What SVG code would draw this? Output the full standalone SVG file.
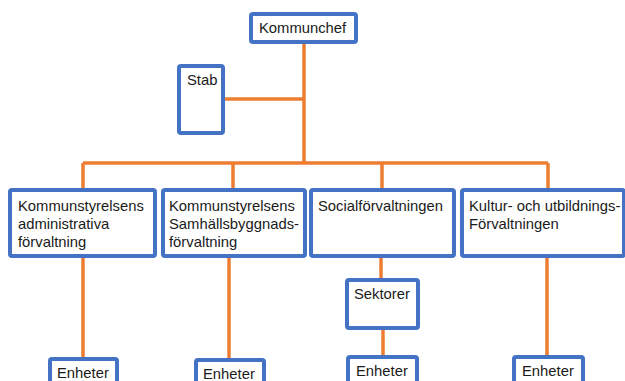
<svg xmlns="http://www.w3.org/2000/svg" width="625" height="381" viewBox="0 0 625 381">
<style>
.box{fill:#fff;stroke:#4472C4;stroke-width:4}
.ln{stroke:#ED7D31;stroke-width:3.5;fill:none;stroke-linecap:butt}
text{font-family:"Liberation Sans",Arial,sans-serif;font-size:14.8px;fill:#1a1a1a}
</style>
<rect width="625" height="381" fill="#fff"/>
<g id="connectors">
<path class="ln" d="M304 42V163M223 99H304M83 163H548M83 163V190M233 163V190M382 163V190M548 163V190"/>
<path class="ln" d="M83 258V359M229 257V360M381 257V280M383 328V357M547 257V357"/>
</g>
<g id="kommunchef"><rect class="box" x="251" y="14" width="105" height="28" rx="2"/><text x="259" y="33">Kommunchef</text></g>
<g id="stab"><rect class="box" x="179" y="66" width="44" height="67" rx="2"/><text x="187" y="85">Stab</text></g>
<g id="ks-adm"><rect class="box" x="10" y="190" width="145" height="66" rx="2"/><text x="18" y="211">Kommunstyrelsens</text><text x="18" y="229">administrativa</text><text x="18" y="247">förvaltning</text></g>
<g id="ks-samh"><rect class="box" x="163" y="190" width="142" height="66" rx="2"/><text x="169" y="211">Kommunstyrelsens</text><text x="169" y="229">Samhällsbyggnads-</text><text x="169" y="247">förvaltning</text></g>
<g id="social"><rect class="box" x="311" y="190" width="143" height="66" rx="2"/><text x="318" y="211">Socialförvaltningen</text></g>
<g id="kultur"><rect class="box" x="462" y="190" width="162" height="66" rx="2"/><text x="469" y="211">Kultur- och utbildnings-</text><text x="469" y="229">Förvaltningen</text></g>
<g id="sektorer"><rect class="box" x="347" y="280" width="71" height="48" rx="2"/><text x="354" y="299">Sektorer</text></g>
<g id="enheter1"><rect class="box" x="50" y="359" width="67" height="40" rx="2"/><text x="57" y="378">Enheter</text></g>
<g id="enheter2"><rect class="box" x="196" y="360" width="68" height="40" rx="2"/><text x="203" y="379">Enheter</text></g>
<g id="enheter3"><rect class="box" x="348" y="357" width="69" height="40" rx="2"/><text x="356" y="376">Enheter</text></g>
<g id="enheter4"><rect class="box" x="514" y="357" width="69" height="40" rx="2"/><text x="522" y="376">Enheter</text></g>
</svg>
